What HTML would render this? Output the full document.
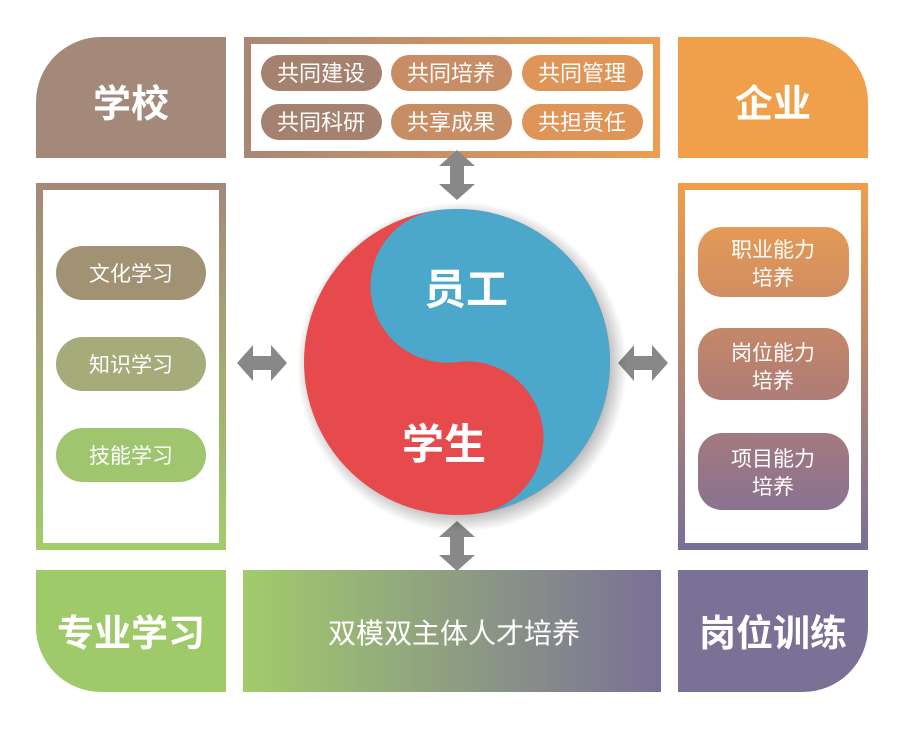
<!DOCTYPE html>
<html><head><meta charset="utf-8"><style>
html,body{margin:0;padding:0;background:#fff;}
svg text{font-family:"Liberation Sans","Noto Sans CJK SC",sans-serif;}
</style></head><body>
<svg width="909" height="727" viewBox="0 0 909 727" xmlns="http://www.w3.org/2000/svg">
<defs>
<linearGradient id="gTop" x1="0" x2="1" y1="0" y2="0"><stop offset="0" stop-color="#a98777"/><stop offset="1" stop-color="#ec9d52"/></linearGradient>
<linearGradient id="gLeft" x1="0" x2="0" y1="0" y2="1"><stop offset="0" stop-color="#a4887a"/><stop offset="1" stop-color="#a2cc6c"/></linearGradient>
<linearGradient id="gRight" x1="0" x2="0" y1="0" y2="1"><stop offset="0" stop-color="#ef9d4c"/><stop offset="1" stop-color="#7a7097"/></linearGradient>
<linearGradient id="gBot" x1="0" x2="1" y1="0" y2="0"><stop offset="0" stop-color="#a2cc6c"/><stop offset="1" stop-color="#7a7097"/></linearGradient>
<linearGradient id="gRP" x1="0" x2="0" y1="227" y2="510" gradientUnits="userSpaceOnUse"><stop offset="0" stop-color="#e59a55"/><stop offset="0.5" stop-color="#b88070"/><stop offset="1" stop-color="#8a7290"/></linearGradient>
<radialGradient id="shadow" cx="0.5" cy="0.5" r="0.5"><stop offset="0.85" stop-color="#000" stop-opacity="0.35"/><stop offset="1" stop-color="#000" stop-opacity="0"/></radialGradient>
<g id="arrV"><polygon points="0,-25 18,-9 7,-9 7,9 18,9 0,25 -18,9 -7,9 -7,-9 -18,-9" fill="#888"/></g>
<g id="arrH"><polygon points="-25,0 -9,-18 -9,-7 9,-7 9,-18 25,0 9,18 9,7 -9,7 -9,18" fill="#888"/></g>
</defs>

<path d="M36,158 V102 A65,65 0 0 1 101,37 H226 V158 Z" fill="#a4887a"/>
<text x="131" y="117" font-size="38" font-weight="bold" fill="#fff" text-anchor="middle">学校</text>
<path d="M678,37 H803 A65,65 0 0 1 868,102 V158 H678 Z" fill="#f0a04a"/>
<text x="773" y="117" font-size="38" font-weight="bold" fill="#fff" text-anchor="middle">企业</text>
<path d="M36,570 H226 V692 H101 A65,65 0 0 1 36,627 Z" fill="#9fca6a"/>
<text x="131" y="646" font-size="37" font-weight="bold" fill="#fff" text-anchor="middle">专业学习</text>
<path d="M678,570 H868 V627 A65,65 0 0 1 803,692 H678 Z" fill="#7b7197"/>
<text x="773" y="646" font-size="37" font-weight="bold" fill="#fff" text-anchor="middle">岗位训练</text>

<rect x="247.5" y="40.5" width="409" height="114" fill="none" stroke="url(#gTop)" stroke-width="7"/>
<g font-size="22" fill="#fff" text-anchor="middle">
<rect x="261" y="55" width="121" height="36" rx="18" fill="#a4826f"/><text x="321" y="81">共同建设</text>
<rect x="391" y="55" width="121" height="36" rx="18" fill="#c78e66"/><text x="451" y="81">共同培养</text>
<rect x="522" y="55" width="121" height="36" rx="18" fill="#df9558"/><text x="582" y="81">共同管理</text>
<rect x="261" y="104" width="121" height="36" rx="18" fill="#a4826f"/><text x="321" y="130">共同科研</text>
<rect x="391" y="104" width="121" height="36" rx="18" fill="#c78e66"/><text x="451" y="130">共享成果</text>
<rect x="522" y="104" width="121" height="36" rx="18" fill="#df9558"/><text x="582" y="130">共担责任</text>
</g>

<rect x="39.5" y="186.5" width="183" height="360" fill="none" stroke="url(#gLeft)" stroke-width="7"/>
<g font-size="21" fill="#fff" text-anchor="middle">
<rect x="56" y="246" width="150" height="54" rx="27" fill="#a19273"/><text x="131" y="281">文化学习</text>
<rect x="56" y="337" width="150" height="54" rx="27" fill="#a5ab79"/><text x="131" y="372">知识学习</text>
<rect x="56" y="428" width="150" height="54" rx="27" fill="#a0c56f"/><text x="131" y="463">技能学习</text>
</g>

<rect x="681.5" y="186.5" width="183" height="360" fill="none" stroke="url(#gRight)" stroke-width="7"/>
<g font-size="21" fill="#fff" text-anchor="middle">
<rect x="698" y="227" width="151" height="70" rx="24" fill="url(#gRP)"/><text x="773" y="257">职业能力</text><text x="773" y="285">培养</text>
<rect x="698" y="328" width="151" height="72" rx="24" fill="url(#gRP)"/><text x="773" y="360">岗位能力</text><text x="773" y="388">培养</text>
<rect x="698" y="433" width="151" height="77" rx="24" fill="url(#gRP)"/><text x="773" y="466">项目能力</text><text x="773" y="494">培养</text>
</g>

<rect x="243" y="570" width="418" height="122" fill="url(#gBot)"/>
<text x="454" y="643" font-size="28" fill="#fff" text-anchor="middle">双模双主体人才培养</text>

<use href="#arrV" x="457" y="175"/>
<use href="#arrV" x="457" y="546"/>
<use href="#arrH" x="262" y="363"/>
<use href="#arrH" x="643" y="363"/>

<circle cx="462" cy="367" r="165" fill="url(#shadow)"/>
<g transform="translate(457,362) rotate(-7.5)">
<circle r="153" fill="#e74a4d"/>
<path d="M0,-153 A153,153 0 0 1 0,153 A76.5,76.5 0 0 0 0,0 A76.5,76.5 0 0 1 0,-153 Z" fill="#4ba8cb"/>
</g>
<text x="466" y="304" font-size="42" font-weight="bold" fill="#fff" text-anchor="middle">员工</text>
<text x="444" y="459" font-size="42" font-weight="bold" fill="#fff" text-anchor="middle">学生</text>
</svg>
</body></html>
